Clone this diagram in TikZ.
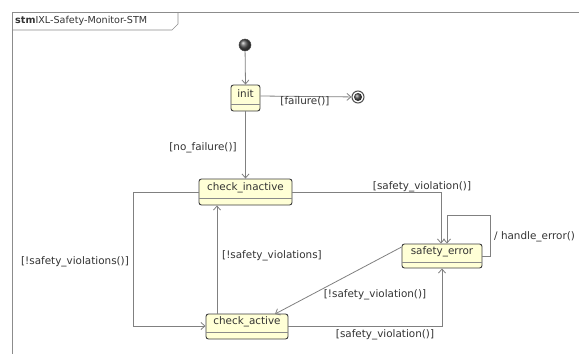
\documentclass[tikz,border=0pt]{standalone}
\usepackage{fontspec}
\setmainfont{DejaVu Sans}
\usetikzlibrary{arrows.meta}
\definecolor{statefill}{RGB}{255,255,214}
\definecolor{stateline}{RGB}{60,60,60}
\definecolor{wire}{RGB}{128,128,128}
\definecolor{pseudo}{RGB}{80,80,80}
\tikzset{
  statebox/.style={draw=stateline, line width=0.9pt, fill=statefill, rounded corners=2.5pt, inner sep=0pt},
  sep/.style={draw=stateline!60, line width=0.5pt},
  lbl/.style={font=\fontsize{10.4}{12}\selectfont, text=black!80, inner sep=0pt},
  tr/.style={draw=wire, line width=0.8pt, -{Straight Barb[length=4pt,width=7pt]}},
}
\begin{document}
\begin{tikzpicture}[x=1pt,y=-1pt]
\useasboundingbox (0,0) rectangle (579,354);
% diagram frame with name tab
\draw[draw=black!45, line width=0.7pt] (579,12) -- (12,12) -- (12,354);
\draw[draw=black!45, line width=0.7pt] (12,30) -- (172,30) -- (178,24) -- (178,12);
\node[lbl, anchor=west, font=\fontsize{9.6}{11}\selectfont] (title) at (15,21) {\textbf{stm}IXL-Safety-Monitor-STM};

% pseudo states
\shade[ball color=pseudo] (245,45) circle (6pt);
\node[circle, draw=black!70, line width=0.5pt, minimum size=12pt, inner sep=0pt] (start) at (245,45) {};
\node[circle, draw=pseudo, line width=1pt, fill=white, minimum size=12pt, inner sep=0pt] (final) at (358,97) {};
\shade[ball color=pseudo] (final) circle (4pt);

% states
\node[statebox, minimum width=29pt, minimum height=26pt] (init) at (245.5,98) {};
\node[lbl] at (245.5,94) {init};
\draw[sep] (231,104) -- (260,104);

\node[statebox, minimum width=93pt, minimum height=26pt] (inactive) at (245.5,192) {};
\node[lbl] at (245.5,188) {check\_inactive};
\draw[sep] (199,198) -- (292,198);

\node[statebox, minimum width=82pt, minimum height=25pt] (active) at (247,326.5) {};
\node[lbl] at (247,322) {check\_active};
\draw[sep] (206,332) -- (288,332);

\node[statebox, minimum width=80pt, minimum height=24pt] (error) at (442,256) {};
\node[lbl] at (442,252) {safety\_error};
\draw[sep] (402,262) -- (482,262);

% turning points of the routed transitions
\coordinate (ciLeft) at (133,192);
\coordinate (caLeft) at (133,326);
\coordinate (ciRight) at (441,192);
\coordinate (caRight) at (442,326);
\coordinate (loopA) at (490,256);
\coordinate (loopB) at (490,215);
\coordinate (loopC) at (447,215);

% transitions
\draw[tr] (start) -- (init.north);
\draw[tr] (init.east |- 0,96) -- (final);
\node[lbl] at (305,101) {[failure()]};

\draw[tr] (init.south) -- (inactive.north);
\node[lbl] at (203,148) {[no\_failure()]};

\draw[tr] (inactive.west) -- (ciLeft) -- (caLeft) -- (active.west |- caLeft);
\node[lbl] at (75,262) {[!safety\_violations()]};

\draw[tr] (active.north -| 217,0) -- (inactive.south -| 217,0);
\node[lbl, anchor=west] at (222,256) {[!safety\_violations]};

\draw[tr] (inactive.east) -- (ciRight) -- (ciRight |- error.north);
\node[lbl] at (422,187) {[safety\_violation()]};

\draw[tr] (loopA -| error.east) -- (loopA) -- (loopB) -- (loopC) -- (loopC |- error.north);
\node[lbl, anchor=west] at (494,237) {/ handle\_error()};

\draw[tr] (error.west |- 0,247) -- (275,314);
\node[lbl] at (375,295) {[!safety\_violation()]};

\draw[tr] (active.east |- caRight) -- (caRight) -- (caRight |- error.south);
\node[lbl] at (385,335) {[safety\_violation()]};
\end{tikzpicture}
\end{document}
